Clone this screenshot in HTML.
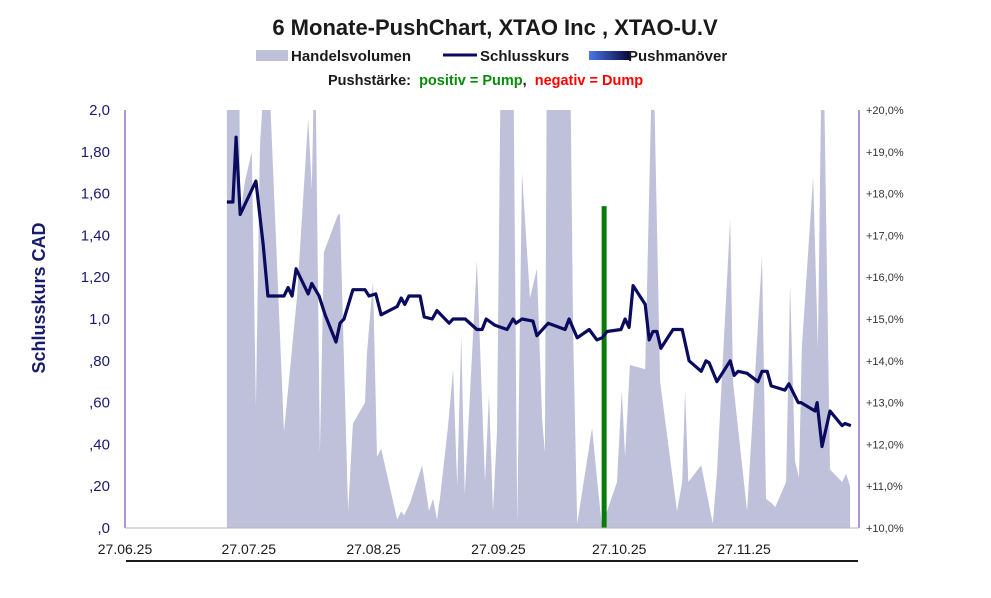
<!DOCTYPE html>
<html><head><meta charset="utf-8"><style>
body{margin:0;background:#fff;width:991px;height:593px;overflow:hidden;font-family:"Liberation Sans",sans-serif}
</style></head><body>
<svg id="chart" width="991" height="593" viewBox="0 0 991 593" xmlns="http://www.w3.org/2000/svg" font-family="Liberation Sans, sans-serif">
<defs>
<clipPath id="plotClip"><rect x="125" y="110" width="734" height="418"/></clipPath>
<linearGradient id="pushGrad" x1="0" x2="1"><stop offset="0" stop-color="#4a78e8"/><stop offset="1" stop-color="#0a0a40"/></linearGradient>
</defs>
<text x="495" y="35" text-anchor="middle" font-size="22" font-weight="bold" fill="#1a1a1a">6 Monate-PushChart, XTAO Inc , XTAO-U.V</text>
<g font-size="15" font-weight="bold" fill="#1a1a1a">
<g><rect x="256" y="50" width="32" height="11" fill="#bfc0da"/><text x="291" y="61">Handelsvolumen</text></g>
<g><line x1="443" y1="55" x2="477" y2="55" stroke="#0a0a5e" stroke-width="3"/><text x="480" y="61">Schlusskurs</text></g>
<g><rect x="589" y="51" width="40" height="9" fill="url(#pushGrad)"/><text x="628" y="61">Pushmanöver</text></g>
</g>
<text x="328" y="85" font-size="14.5" font-weight="bold" fill="#1a1a1a" xml:space="preserve">Pushstärke:  <tspan fill="#0a8a0a">positiv = Pump</tspan>,  <tspan fill="#ff0000">negativ = Dump</tspan></text>
<g id="plot"></g>
<line x1="125" y1="110" x2="125" y2="528" stroke="#6a2ab0" stroke-width="1"/>
<line x1="859" y1="110" x2="859" y2="528" stroke="#6a2ab0" stroke-width="1"/>
<line x1="125" y1="528" x2="859" y2="528" stroke="#b8b8b8" stroke-width="1"/>
<line x1="126" y1="561" x2="858" y2="561" stroke="#1a1a1a" stroke-width="2"/>
<text transform="translate(45,298) rotate(-90)" text-anchor="middle" font-size="18" font-weight="bold" fill="#1a1a6e">Schlusskurs CAD</text>
<g id="yl"></g>
<g id="yr"></g>
<g id="xl"></g>
</svg>
<script>
const priceDays=[25.3,26.8,27.6,28.6,32.5,34.3,35.5,39.5,40.5,41.5,42.5,45.5,46.4,48.2,49.7,52.4,53.4,54.4,56.6,59.6,60.6,62.3,63.6,67.6,68.6,69.5,70.5,73.3,74.3,76.3,77.5,80.5,81.5,84.5,87.4,88.7,89.7,91.9,94.9,96.4,97.1,98.6,101.3,102.3,105.1,109.3,110.3,112.3,115.3,117.2,118.5,119.7,123.2,124.2,125.2,126.2,129.2,130.2,131.1,132.1,133.1,136.1,138.4,140.1,143.1,144.3,145.1,147.0,150.3,151.3,152.3,154.5,157.2,158.2,159.5,160.5,163.9,164.9,167.2,167.9,171.4,171.9,173.1,175.1,178.1,178.8,180.3];
const priceValues=[1.56,1.56,1.87,1.50,1.66,1.36,1.11,1.11,1.15,1.11,1.24,1.12,1.17,1.11,1.02,0.89,0.98,1.00,1.14,1.14,1.11,1.12,1.02,1.06,1.10,1.07,1.11,1.11,1.01,1.00,1.04,0.98,1.00,1.00,0.95,0.95,1.00,0.97,0.95,1.00,0.98,1.00,0.99,0.92,0.98,0.95,1.00,0.91,0.95,0.90,0.91,0.94,0.95,1.00,0.96,1.16,1.07,0.90,0.94,0.94,0.86,0.95,0.95,0.80,0.75,0.80,0.79,0.70,0.80,0.73,0.75,0.74,0.70,0.75,0.75,0.68,0.66,0.69,0.60,0.60,0.56,0.60,0.39,0.56,0.49,0.50,0.49];
const volDays=[25.3,25.3,28.3,28.6,29.8,31.5,32.5,33.5,35.3,39.5,42.7,45.5,46.4,47.2,48.4,49.4,52.9,53.4,55.4,56.6,59.6,60.1,61.6,62.6,63.6,67.6,68.6,69.3,70.8,73.8,75.5,76.5,77.5,78.2,80.2,81.5,82.5,83.5,84.4,87.4,89.4,90.4,91.4,92.4,93.4,96.4,97.4,98.6,100.6,102.3,103.6,104.3,104.8,110.5,111.3,112.3,116.0,117.2,118.5,119.7,122.2,123.4,124.2,125.4,129.2,131.1,132.9,137.1,138.4,139.1,139.9,143.1,146.0,147.0,150.3,151.0,154.5,158.2,159.2,160.5,161.5,164.2,165.2,166.4,167.4,168.1,170.9,172.1,173.1,173.4,175.1,178.1,179.1,180.1,180.1];
const volValues=[0,120,120,75,83,90,29,91,120,23,55,98,81,120,18,66,75,75,4,25,30,42,59,17,19,2,4,3,6,15,4,7,2,7,24,38,10,46,8,64,11,32,4,23,120,120,1,85,55,62,26,18,120,120,47,1,24,12,0,4,11,33,17,39,38,120,35,4,11,33,11,15,1,13,74,35,4,65,7,6,5,11,58,16,12,43,84,43,120,120,14,11,13,10,0];
const pushDays=[119.0];
const pushValues=[7.7];
const leftTicks=[0,0.2,0.4,0.6,0.8,1.0,1.2,1.4,1.6,1.8,2.0];
const leftTickLabels=[",0",",20",",40",",60",",80","1,0","1,20","1,40","1,60","1,80","2,0"];
const rightTicks=[0,1,2,3,4,5,6,7,8,9,10];
const rightTickLabels=["+10,0%","+11,0%","+12,0%","+13,0%","+14,0%","+15,0%","+16,0%","+17,0%","+18,0%","+19,0%","+20,0%"];
const xTickDays=[0,30,61,92,122,153];
const xTickLabels=["27.06.25","27.07.25","27.08.25","27.09.25","27.10.25","27.11.25"];

const X0=125,X1=859,Y0=528,Y1=110,DAYMAX=182.3;
const x=d=>X0+d/DAYMAX*(X1-X0);
const yP=v=>Y0-v/2*(Y0-Y1);
const yV=v=>Y0-v/100*(Y0-Y1);
const yR=v=>Y0-v/10*(Y0-Y1);
const NS="http://www.w3.org/2000/svg";
const plot=document.getElementById('plot');
function mk(t,a,p){const e=document.createElementNS(NS,t);for(const k in a)e.setAttribute(k,a[k]);p.appendChild(e);return e;}

let vp=volDays.map((d,i)=>x(d).toFixed(1)+","+yV(volValues[i]).toFixed(1)).join(" ");
const area=mk('polygon',{points:vp,fill:'#bfc0da','clip-path':'url(#plotClip)'},plot);



pushDays.forEach((d,i)=>{
 const b=mk('rect',{x:x(d)-2.5,y:yR(pushValues[i]),width:5,height:Y0-yR(pushValues[i]),fill:'#0a7a0a'},plot);
 
 
});

let pp=priceDays.map((d,i)=>x(d).toFixed(1)+","+yP(priceValues[i]).toFixed(1)).join(" ");
const line=mk('polyline',{points:pp,fill:'none',stroke:'#0a0a5e','stroke-width':3.2,'stroke-linejoin':'round'},plot);



const yl=document.getElementById('yl');
leftTicks.forEach((v,i)=>{const t=mk('text',{x:110,y:yP(v)+5,'text-anchor':'end','font-size':15,fill:'#1a1a6e'},yl);t.textContent=leftTickLabels[i];
 
 });
const yr=document.getElementById('yr');
rightTicks.forEach((v,i)=>{const t=mk('text',{x:866,y:yR(v)+4,'font-size':11,fill:'#333'},yr);t.textContent=rightTickLabels[i];
 
 });
const xl=document.getElementById('xl');
xTickDays.forEach((d,i)=>{const t=mk('text',{x:x(d)+(i?3:0),y:554,'text-anchor':'middle','font-size':14,fill:'#1a1a1a'},xl);t.textContent=xTickLabels[i];
 
 });
</script>
</body></html>
